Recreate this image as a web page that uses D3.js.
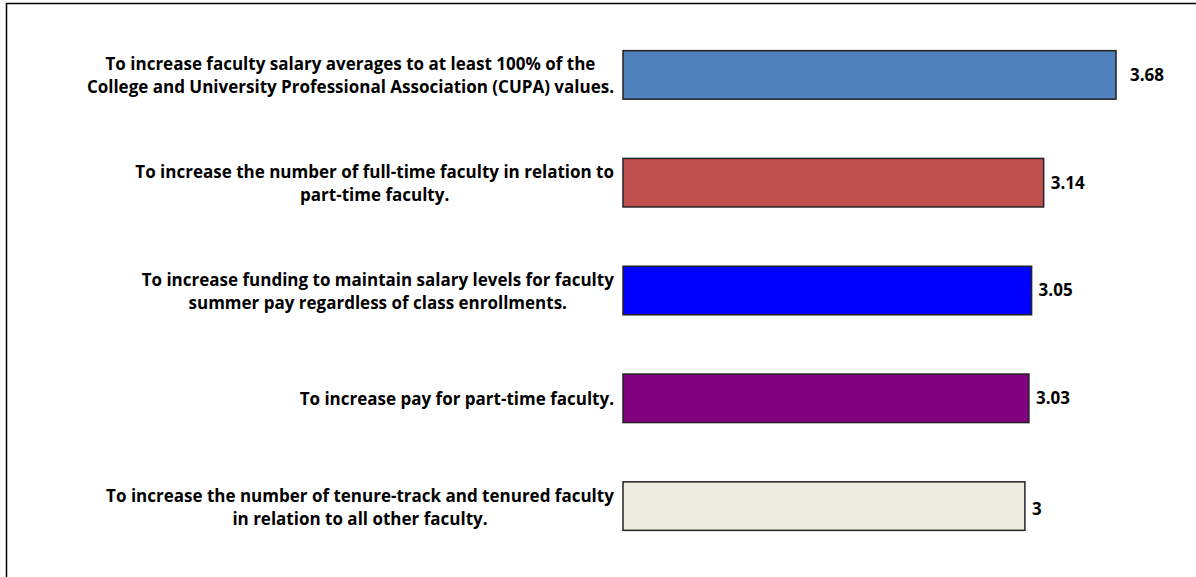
<!DOCTYPE html>
<html>
<head>
<meta charset="utf-8">
<script src="https://cdn.jsdelivr.net/npm/d3@7"></script>
<style>
  body { margin: 0; background: #fff; }
  svg text { font-family: "Open Sans", Lato, sans-serif; font-weight: bold; fill: #000; }
</style>
</head>
<body>
<div id="chart"></div>
<script>
// chart data
var categories = [
  ["To increase faculty salary averages to at least 100% of the", "College and University Professional Association (CUPA) values."],
  ["To increase the number of full-time faculty in relation to", "part-time faculty."],
  ["To increase funding to maintain salary levels for faculty", "summer pay regardless of class enrollments."],
  ["To increase pay for part-time faculty."],
  ["To increase the number of tenure-track and tenured faculty", "in relation to all other faculty."]
];
var values = [3.68, 3.14, 3.05, 3.03, 3];
var valueLabels = ["3.68", "3.14", "3.05", "3.03", "3"];
var colors = ["#4f81bd", "#c0504d", "#0000ff", "#800080", "#eeece1"];

var width = 1196, height = 577;

var svg = d3.select("#chart")
  .append("svg")
    .attr("width", width)
    .attr("height", height);

// outer frame (runs off the right and bottom of the picture)
svg.append("rect")
  .attr("x", 6.5).attr("y", 3.5)
  .attr("width", 1200).attr("height", 600)
  .attr("fill", "none")
  .attr("stroke", "#000")
  .attr("stroke-width", 1.5);

var x = d3.scaleLinear()
  .domain([0, 3.68])
  .range([623, 1116]);

var y = d3.scaleBand()
  .domain(d3.range(categories.length))
  .range([21, 560])
  .paddingInner(0.55)
  .paddingOuter(0.275);

// bars
svg.selectAll("rect.bar")
  .data(values)
  .enter()
  .append("rect")
    .attr("class", "bar")
    .attr("x", x(0))
    .attr("y", function(d, i) { return y(i); })
    .attr("width", function(d) { return x(d) - x(0); })
    .attr("height", y.bandwidth())
    .attr("fill", function(d, i) { return colors[i]; })
    .attr("stroke", "#222")
    .attr("stroke-width", 1.5);

// value labels
svg.selectAll("text.val")
  .data(values)
  .enter()
  .append("text")
    .attr("class", "val")
    .attr("x", function(d, i) { return x(d) + (i == 0 ? 14 : 7); })
    .attr("y", function(d, i) { return y(i) + y.bandwidth() / 2 + (i == 4 ? 3 : 0); })
    .attr("dy", "0.35em")
    .style("font-size", "17px")
    .text(function(d, i) { return valueLabels[i]; });

// category labels
var lineH = 23;
svg.selectAll("text.cat")
  .data(categories)
  .enter()
  .append("text")
    .attr("class", "cat")
    .attr("text-anchor", "middle")
    .style("font-size", "17px")
    .each(function(lines, i) {
      var t = d3.select(this);
      var cy = y(i) + y.bandwidth() / 2;
      var top = cy - (lines.length - 1) * lineH / 2 + 1;
      lines.forEach(function(s, j) {
        t.append("tspan")
          .attr("x", 0)
          .attr("y", top + j * lineH)
          .attr("dy", "0.35em")
          .text(s);
      });
    });

// shift each label so its widest line ends just left of the bars
svg.selectAll("text.cat").each(function() {
  var b = this.getBBox();
  var cx = 614 - b.width / 2;
  d3.select(this).selectAll("tspan").attr("x", cx);
});
</script>
</body>
</html>
